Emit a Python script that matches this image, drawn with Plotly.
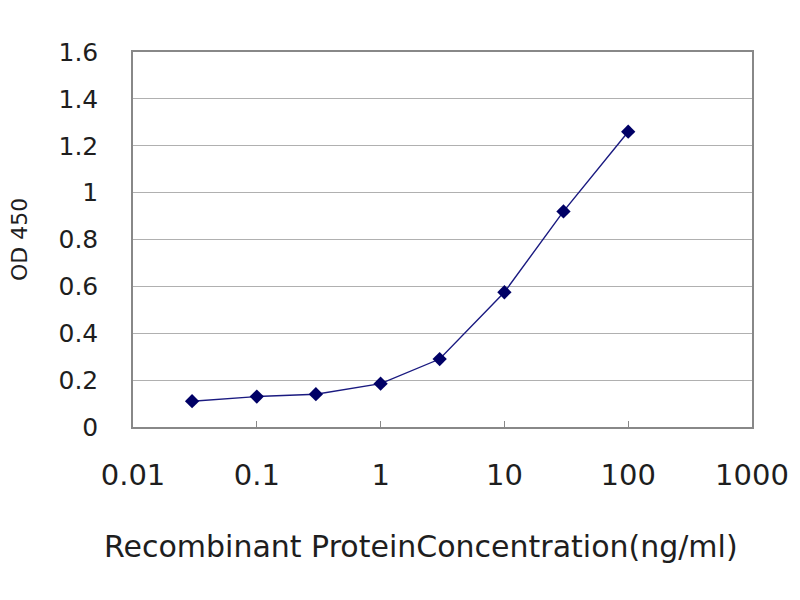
import plotly.graph_objects as go

concentration = [0.03, 0.1, 0.3, 1, 3, 10, 30, 100]
od450 = [0.11, 0.13, 0.14, 0.185, 0.29, 0.575, 0.92, 1.26]
x_tick_values = [0.01, 0.1, 1, 10, 100, 1000]
x_tick_labels = ["0.01", "0.1", "1", "10", "100", "1000"]
y_tick_values = [0, 0.2, 0.4, 0.6, 0.8, 1.0, 1.2, 1.4, 1.6]
y_tick_labels = ["0", "0.2", "0.4", "0.6", "0.8", "1", "1.2", "1.4", "1.6"]

FAM = "DejaVu Sans, Liberation Sans, Arial, sans-serif"
COL = "#1e1e1e"
xfont = dict(family=FAM, size=29, color=COL)
yfont = dict(family=FAM, size=25, color=COL)
tfont = dict(family=FAM, size=30, color=COL)
ytfont = dict(family=FAM, size=22, color=COL)

# plot area in page pixels: x 133..752, y 52..427 (page has an 8px body margin)
PL, PR, PT, PB = 133, 752, 52, 427
PW, PH = PR - PL, PB - PT

fig = go.Figure()
fig.add_trace(go.Scatter(
    x=concentration, y=od450, mode="lines+markers",
    line=dict(color="#1a1a80", width=1.4),
    marker=dict(symbol="diamond", size=11, color="#000066"),
    showlegend=False,
))

fig.update_layout(
    width=800, height=600,
    margin=dict(l=PL - 8, r=800 - PR + 8, t=PT - 8, b=600 - PB + 8),
    paper_bgcolor="white", plot_bgcolor="white",
    font=yfont,
    xaxis=dict(
        type="log", range=[-2, 3],
        tickvals=x_tick_values, ticktext=x_tick_labels,
        ticks="inside", ticklen=6, tickcolor="#888888",
        showgrid=False, showline=True, linecolor="#888888", linewidth=1.5,
        mirror=True, ticklabelstandoff=21, zeroline=False,
        tickfont=xfont,
    ),
    yaxis=dict(
        range=[0, 1.6],
        tickvals=y_tick_values, ticktext=y_tick_labels,
        showgrid=True, gridcolor="#b0b0b0", gridwidth=1.2,
        showline=True, linecolor="#888888", linewidth=1.5, mirror=True,
        ticks="", ticklabelstandoff=28, zeroline=False,
        tickfont=yfont,
    ),
    annotations=[
        dict(
            text="Recombinant ProteinConcentration(ng/ml)",
            xref="paper", yref="paper", x=(421 - PL) / PW, y=-(546 - PB) / PH,
            xanchor="center", yanchor="middle", showarrow=False, font=tfont,
        ),
        dict(
            text="OD 450", textangle=-90,
            xref="paper", yref="paper", x=-(PL - 19) / PW, y=(PB - 240) / PH,
            xanchor="center", yanchor="middle", showarrow=False, font=ytfont,
        ),
    ],
)

fig.write_html("out.html")
